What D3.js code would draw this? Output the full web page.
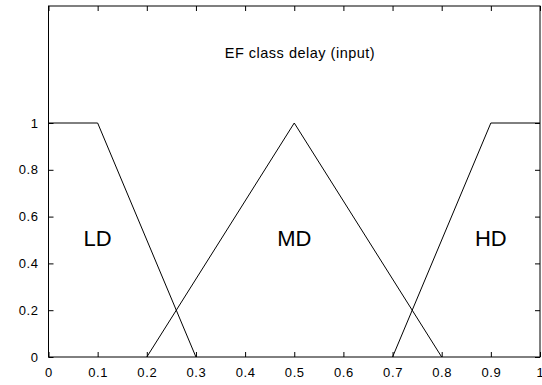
<!DOCTYPE html>
<html>
<head>
<meta charset="utf-8">
<script src="https://cdn.jsdelivr.net/npm/d3@7"></script>
<style>
  html, body { margin: 0; padding: 0; background: #fff; }
  svg { display: block; font-family: "Liberation Sans", Arial, sans-serif; }
</style>
</head>
<body>
<svg id="chart" width="542" height="385"></svg>
<script>
'use strict';

// membership functions (x, membership)
const setNames = ['LD', 'MD', 'HD'];
const ldPoints = [[0, 1], [0.1, 1], [0.3, 0]];
const mdPoints = [[0.2, 0], [0.5, 1], [0.8, 0]];
const hdPoints = [[0.7, 0], [0.9, 1], [1, 1]];
const labelX = [0.1, 0.5, 0.9];
const labelY = 0.476;

const xTicks = [0, 0.1, 0.2, 0.3, 0.4, 0.5, 0.6, 0.7, 0.8, 0.9, 1];
const yTicks = [0, 0.2, 0.4, 0.6, 0.8, 1];
const title = 'EF class delay (input)';

(function() {
    const d3 = window.d3;
    const margin = {top: 6, right: 2, bottom: 28, left: 48.5};
    const width = 542 - margin.left - margin.right;
    const height = 385 - margin.top - margin.bottom;
    const svg = d3.select('#chart');

    const x = d3.scaleLinear().domain([0, 1]).range([0, width]);
    const y = d3.scaleLinear().domain([0, 1.5]).range([height, 0]);

    const g = svg.append('g')
        .attr('transform', 'translate(' + margin.left + ',' + margin.top + ')');

    const fmt = d => String(d);

    // Axes, ticks pointing inward like gnuplot
    const styleAxis = sel => {
        sel.select('.domain').remove();
        sel.selectAll('line').attr('stroke', '#000');
        sel.selectAll('text').attr('fill', '#000')
            .style('font-size', '13px')
            .style('letter-spacing', '0.6px');
    };

    g.append('g')
        .attr('transform', 'translate(0,' + height + ')')
        .call(d3.axisBottom(x).tickValues(xTicks).tickFormat(fmt).tickSize(-5).tickPadding(10.5))
        .call(styleAxis);

    g.append('g')
        .call(d3.axisTop(x).tickValues(xTicks).tickFormat('').tickSize(-5))
        .call(styleAxis);

    g.append('g')
        .call(d3.axisLeft(y).tickValues(yTicks).tickFormat(fmt).tickSize(-5).tickPadding(10))
        .call(styleAxis);

    g.append('g')
        .attr('transform', 'translate(' + width + ',0)')
        .call(d3.axisRight(y).tickValues(yTicks).tickFormat('').tickSize(-5))
        .call(styleAxis);

    // frame
    g.append('rect')
        .attr('width', width)
        .attr('height', height)
        .attr('fill', 'none')
        .attr('stroke', '#000')
        .attr('stroke-width', 1);

    // curves
    const line = d3.line()
        .x(d => x(d[0]))
        .y(d => y(d[1]));

    g.selectAll('path.mf')
        .data([ldPoints, mdPoints, hdPoints])
        .enter()
        .append('path')
        .attr('class', 'mf')
        .attr('d', line)
        .attr('fill', 'none')
        .attr('stroke', '#000')
        .attr('stroke-width', 1);

    // set labels
    g.selectAll('text.set')
        .data(setNames)
        .enter()
        .append('text')
        .attr('class', 'set')
        .attr('x', (d, i) => x(labelX[i]))
        .attr('y', y(labelY))
        .attr('text-anchor', 'middle')
        .style('font-size', '22px')
        .text(d => d);

    g.append('text')
        .attr('x', 300 - margin.left)
        .attr('y', 57.5 - margin.top)
        .attr('text-anchor', 'middle')
        .style('font-size', '14.5px')
        .style('letter-spacing', '0.5px')
        .text(title);
}());
</script>
</body>
</html>
